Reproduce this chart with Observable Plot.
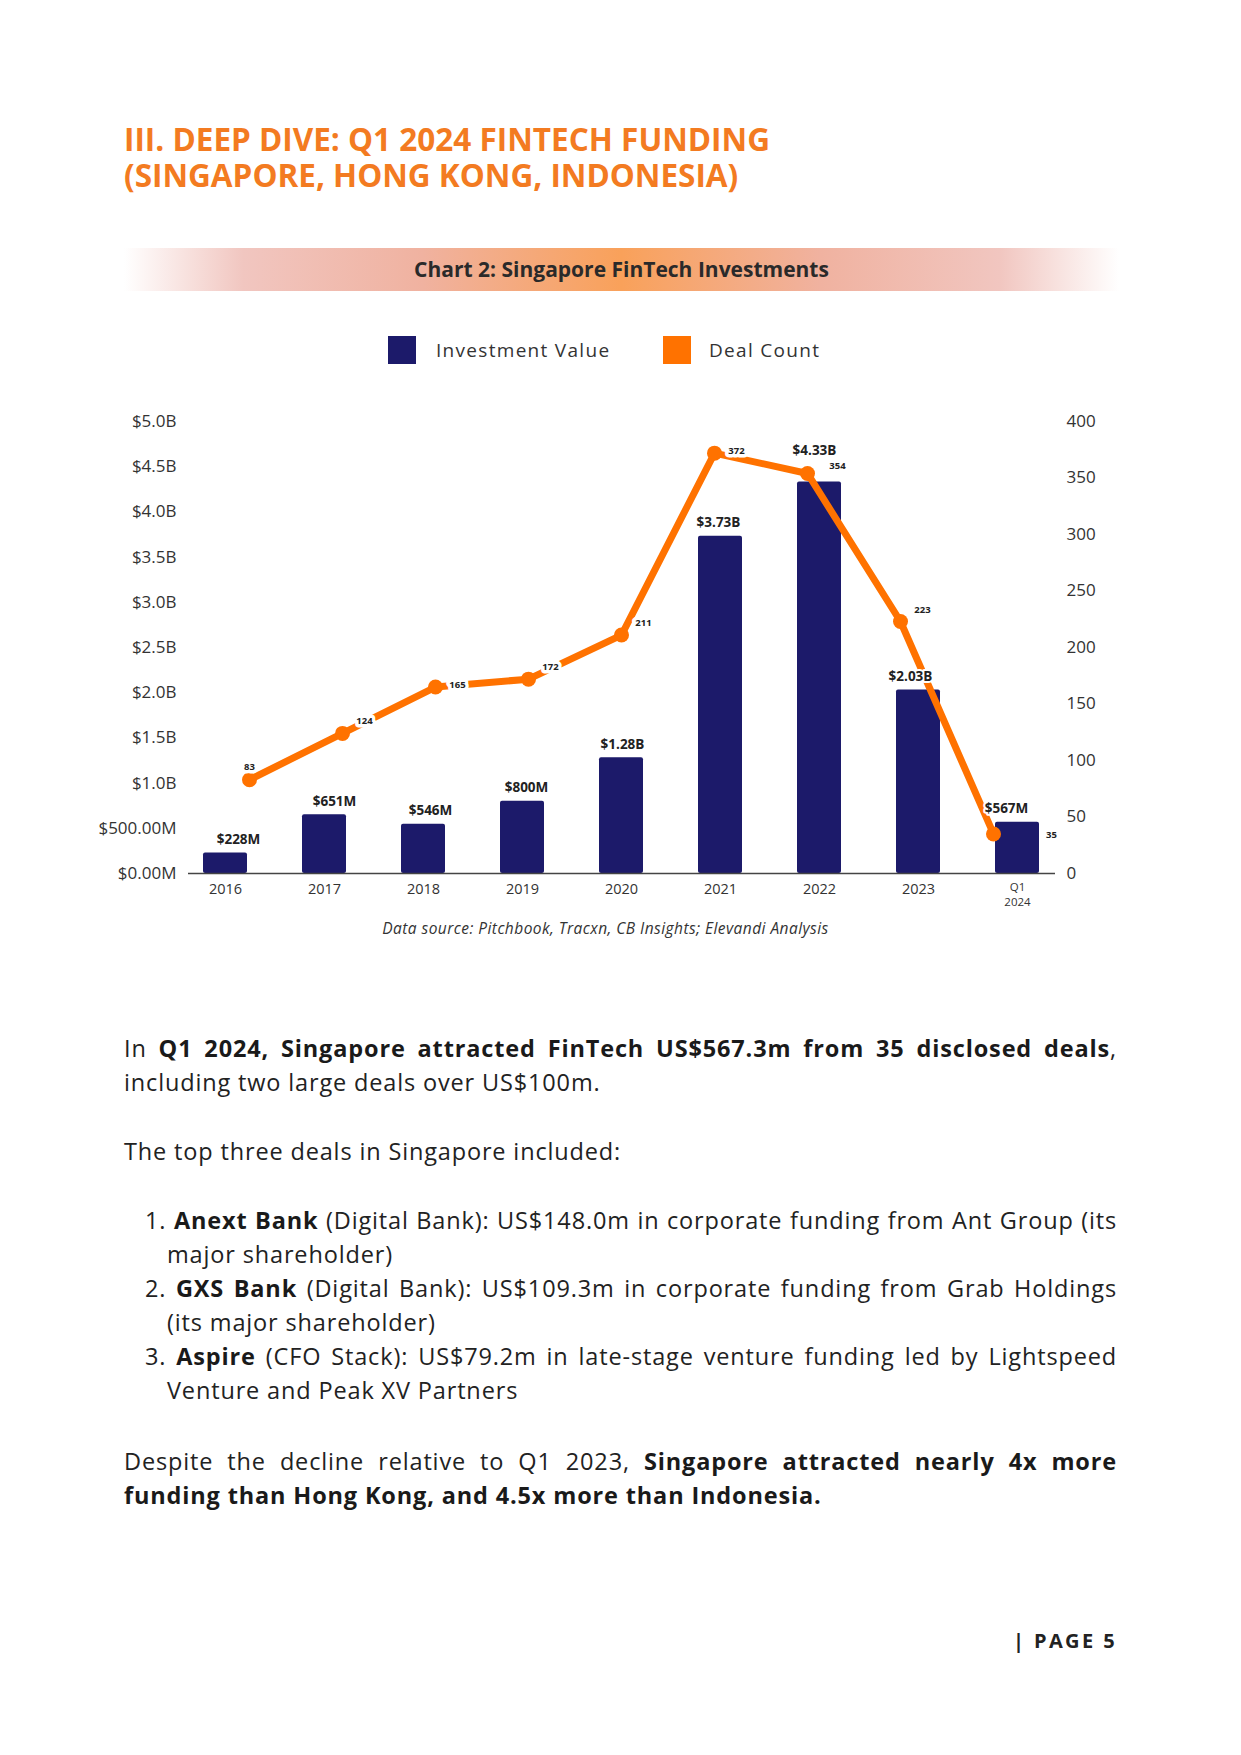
<!DOCTYPE html>
<html>
<head>
<meta charset="utf-8">
<script src="https://cdn.jsdelivr.net/npm/d3@7"></script>
<script src="https://cdn.jsdelivr.net/npm/@observablehq/plot@0.6"></script>
<style>
  html, body { margin: 0; padding: 0; background: #fff; }
  body { width: 1241px; height: 1755px; overflow: hidden; position: relative; font-family: "Open Sans", Lato, sans-serif; color: #222; }
  .abs { position: absolute; }
  .title { left: 124px; top: 121px; font-size: 31.5px; line-height: 36px; font-weight: 700; color: #f37b21; }
  .band { left: 124px; top: 248px; width: 995px; height: 43px; line-height: 43px; text-align: center; font-weight: 700; font-size: 21px; color: #2a2a2a;
    background: linear-gradient(to right, rgba(255,255,255,0) 0%, #f1c6c0 12%, #f0b2a0 30%, #f9a15a 50%, #f0b2a0 70%, #f1c6c0 88%, rgba(255,255,255,0) 100%); }
  .legend { top: 336px; left: 0; width: 1241px; height: 28px; }
  .sw { position: absolute; width: 28px; height: 28px; top: 0; }
  .lt { position: absolute; top: 0; line-height: 28px; font-size: 19px; letter-spacing: 1.3px; color: #333; }
  #chart { left: 0; top: 380px; width: 1241px; height: 543px; }
  #chart svg { position: absolute; left: 0; top: 0; }
  .caption { left: 0; width: 1211px; top: 918px; text-align: center; font-style: italic; font-size: 15.5px; line-height: 20px; color: #333; letter-spacing: 0.45px; }
  .body { left: 124px; width: 993px; font-size: 23.5px; line-height: 34px; text-align: justify; color: #222; letter-spacing: 0.85px; }
  .body b { font-weight: 700; color: #1a1a1a; }
  .li { padding-left: 43px; text-indent: -22px; }
  .page { right: 124px; top: 1628px; font-size: 20px; line-height: 26px; font-weight: 700; letter-spacing: 2.4px; color: #222; }
</style>
</head>
<body>
<div class="abs title">III. DEEP DIVE: Q1 2024 FINTECH FUNDING<br>(SINGAPORE, HONG KONG, INDONESIA)</div>
<div class="abs band">Chart 2: Singapore FinTech Investments</div>
<div class="abs legend">
  <div class="sw" style="left:388px;background:#1c1a6a"></div>
  <div class="lt" style="left:436px">Investment Value</div>
  <div class="sw" style="left:663px;background:#ff7200"></div>
  <div class="lt" style="left:709px">Deal Count</div>
</div>
<div class="abs" id="chart"></div>
<div class="abs caption">Data source: Pitchbook, Tracxn, CB Insights; Elevandi Analysis</div>

<div class="abs body" style="top:1031px">In <b>Q1 2024, Singapore attracted FinTech US$567.3m from 35 disclosed deals</b>, including two large deals over US$100m.</div>
<div class="abs body" style="top:1134px">The top three deals in Singapore included:</div>
<div class="abs body" style="top:1203px">
  <div class="li">1. <b>Anext Bank</b> (Digital Bank): US$148.0m in corporate funding from Ant Group (its major shareholder)</div>
  <div class="li">2. <b>GXS Bank</b> (Digital Bank): US$109.3m in corporate funding from Grab Holdings (its major shareholder)</div>
  <div class="li">3. <b>Aspire</b> (CFO Stack): US$79.2m in late-stage venture funding led by Lightspeed Venture and Peak XV Partners</div>
</div>
<div class="abs body" style="top:1444px">Despite the decline relative to Q1 2023, <b>Singapore attracted nearly 4x more funding than Hong Kong, and 4.5x more than Indonesia.</b></div>
<div class="abs page">| PAGE 5</div>

<script>
// ---- data ----
const years = ["2016", "2017", "2018", "2019", "2020", "2021", "2022", "2023", "Q1 2024"];
const investmentB = [0.228, 0.651, 0.546, 0.800, 1.28, 3.73, 4.33, 2.03, 0.567];
const investmentLabels = ["$228M", "$651M", "$546M", "$800M", "$1.28B", "$3.73B", "$4.33B", "$2.03B", "$567M"];
const dealCounts = [83, 124, 165, 172, 211, 372, 354, 223, 35];
const leftTicks = [0, 0.5, 1, 1.5, 2, 2.5, 3, 3.5, 4, 4.5, 5];
const leftTickLabels = ["$0.00M", "$500.00M", "$1.0B", "$1.5B", "$2.0B", "$2.5B", "$3.0B", "$3.5B", "$4.0B", "$4.5B", "$5.0B"];
const rightTicks = [0, 50, 100, 150, 200, 250, 300, 350, 400];
const countPerBillion = 80; // right axis 400 aligns with left axis $5.0B

const rows = years.map((y, i) => ({year: y, value: investmentB[i], label: investmentLabels[i], count: dealCounts[i]}));

const NAVY = "#1c1a6a", ORANGE = "#ff7200", INK = "#333";
const W = 1241, H = 543, MT = 41, MB = 50;
const font = "'Open Sans', Lato, sans-serif";
const bandX = {domain: years, paddingInner: 0.555, paddingOuter: 0.15, axis: null};
const yScale = {domain: [0, 5], axis: null};
const countY = d => d.count / countPerBillion;

const chart = document.getElementById("chart");

// Layer A: bars and axes
const layerA = Plot.plot({
  width: W, height: H, marginTop: MT, marginBottom: MB, marginLeft: 188, marginRight: 186,
  style: {fontFamily: font, color: INK, background: "transparent", overflow: "visible"},
  x: bandX, y: yScale,
  marks: [
    Plot.barY(rows, {x: "year", y: "value", fill: NAVY, rx: 2}),
    Plot.ruleY([0], {stroke: "#444", strokeWidth: 1.5}),
    Plot.axisY(leftTicks, {anchor: "left", tickSize: 0, tickPadding: 12, fontSize: 17,
      tickFormat: d => leftTickLabels[leftTicks.indexOf(d)], label: null}),
    Plot.axisY(rightTicks.map(d => d / countPerBillion), {anchor: "right", tickSize: 0, tickPadding: 11, fontSize: 17,
      tickFormat: d => String(Math.round(d * countPerBillion)), label: null}),
    Plot.axisX({anchor: "bottom", tickSize: 0, tickPadding: 7, fontSize: d => d === "Q1 2024" ? 11.5 : 14.5, lineHeight: 1.3,
      tickFormat: d => d === "Q1 2024" ? "Q1\n2024" : d, label: null})
  ]
});

// Layer B: deal count line (points spaced on their own point scale)
const countText = {x: "year", y: countY, text: d => String(d.count), fontSize: 9.5, fontWeight: "bold",
  fill: "#222", stroke: "white", strokeWidth: 7};
const layerB = Plot.plot({
  width: W, height: H, marginTop: MT, marginBottom: MB, marginLeft: 246, marginRight: 245,
  style: {fontFamily: font, background: "transparent", overflow: "visible"},
  x: {type: "point", domain: years, padding: 0, axis: null}, y: yScale,
  marks: [
    Plot.line(rows, {x: "year", y: countY, stroke: ORANGE, strokeWidth: 7}),
    Plot.dot(rows, {x: "year", y: countY, r: 7.5, fill: ORANGE}),
    Plot.text(rows.filter(d => d.year === "2016"), {...countText, dx: 0, dy: -13}),
    Plot.text(rows.filter(d => ["2017", "2019", "2020", "2023"].includes(d.year)), {...countText, dx: 22, dy: -12}),
    Plot.text(rows.filter(d => d.year === "2022"), {...countText, dx: 30, dy: -8}),
    Plot.text(rows.filter(d => ["2018", "2021"].includes(d.year)), {...countText, dx: 22, dy: -2}),
    Plot.text(rows.filter(d => d.year === "Q1 2024"), {...countText, dx: 58, dy: 1, strokeWidth: 0})
  ]
});

// Layer C: investment value labels on top
const layerC = Plot.plot({
  width: W, height: H, marginTop: MT, marginBottom: MB, marginLeft: 188, marginRight: 186,
  style: {fontFamily: font, background: "transparent", overflow: "visible"},
  x: bandX, y: yScale,
  marks: [
    Plot.text(rows.filter(d => d.year !== "2022"), {x: "year", y: "value", text: "label", dy: -9, lineAnchor: "bottom",
      fontSize: 13.5, fontWeight: "bold", fill: "#222", stroke: "white", strokeWidth: 4}),
    Plot.text(rows.filter(d => d.year === "2022"), {x: "year", y: "value", text: "label", dy: -27, lineAnchor: "bottom",
      fontSize: 13.5, fontWeight: "bold", fill: "#222", stroke: "white", strokeWidth: 4})
  ]
});

chart.append(layerA, layerB, layerC);
</script>
</body>
</html>
